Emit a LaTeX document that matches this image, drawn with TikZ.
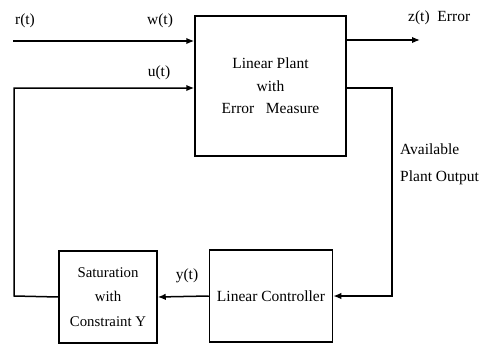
\documentclass[tikz,border=0pt]{standalone}
\usepackage{fontspec}
\setmainfont{Liberation Serif}
\usetikzlibrary{arrows.meta}
\begin{document}
\begin{tikzpicture}[
x=1pt, y=-1pt,
every node/.style={font=\fontsize{15.5}{22.5}\selectfont},
block/.style={draw, line width=1.5pt, align=center, inner sep=0pt},
sig/.style={line width=1.5pt, -{Latex[length=8pt,width=6.5pt]}}
]
\useasboundingbox (0,0) rectangle (480,346);
% blocks
\node[block, minimum width=151pt, minimum height=140pt] (plant) at (270.5,86) {Linear Plant\\with\\Error\ \ \ Measure};
\node[block, minimum width=123pt, minimum height=92pt] (ctrl) at (271,296) {Linear Controller};
\node[block, minimum width=98pt, minimum height=92pt, font=\fontsize{14.8}{24.5}\selectfont] (sat) at (108,297) {Saturation\\with\\Constraint\ Y};
% signal points
\coordinate (r) at (13,41);
\coordinate (uc) at (14,88);
\coordinate (lc) at (14,296);
\coordinate (z) at (420,40);
\coordinate (rc) at (392,88);
% connectors
\draw[sig] (r) -- (r -| plant.west);
\draw[sig] (sat.west) -- (lc) -- (uc) -- (uc -| plant.west);
\draw[sig] (z -| plant.east) -- (z);
\draw[sig] (rc -| plant.east) -- (rc) -- (rc |- ctrl) -- (ctrl.east);
\draw[sig] (ctrl.west) -- (sat.east);
% labels
\node (rl) at (25,21) {r(t)};
\node (wl) at (160,21) {w(t)};
\node (ul) at (159,73) {u(t)};
\node[anchor=west, inner sep=0pt] (zl) at (408,18) {z(t)\ \ Error};
\node (yl) at (187,276) {y(t)};
\node[anchor=west, align=left, inner sep=0pt, font=\fontsize{15.5}{27}\selectfont] (pl) at (400,164) {Available\\Plant Output};
\end{tikzpicture}
\end{document}
